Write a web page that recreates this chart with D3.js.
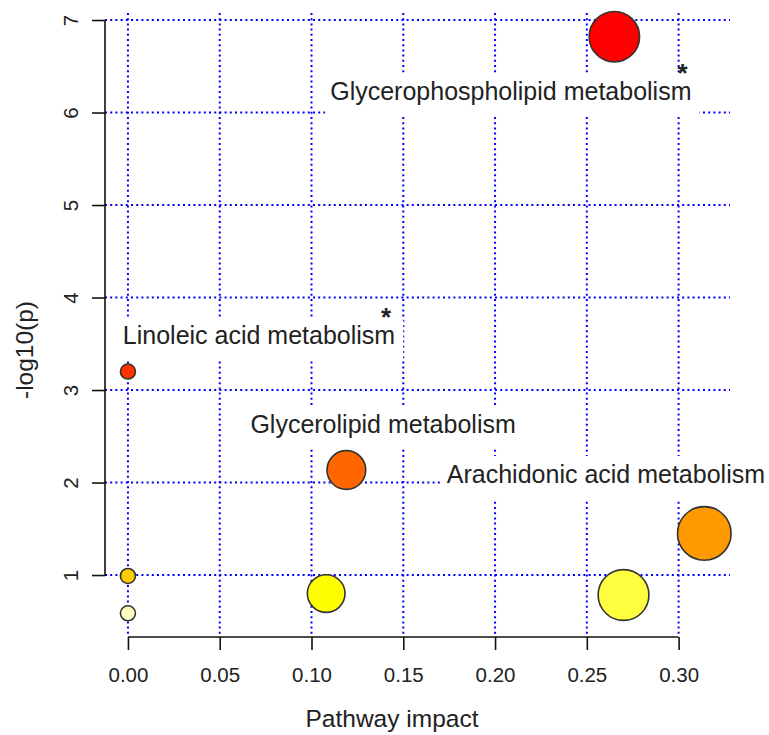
<!DOCTYPE html>
<html>
<head>
<meta charset="utf-8">
<script src="https://cdn.jsdelivr.net/npm/d3@7"></script>
<style>
  body { margin: 0; background: #fff; }
  svg { display: block; font-family: "Liberation Sans", Arial, sans-serif; }
  .tick text { font-size: 20.5px; fill: #222; }
  .axis-title { font-size: 24.5px; fill: #222; }
  .pw-label { font-size: 25px; fill: #222; }
</style>
</head>
<body>
<div id="chart"></div>
<script>
// pathway analysis results
const pathways = ["Glycerophospholipid metabolism", "Linoleic acid metabolism", "Glycerolipid metabolism",
  "Arachidonic acid metabolism", "", "", "", ""];
const impact = [0.265, 0, 0.119, 0.314, 0, 0, 0.108, 0.270];
const logP = [6.82, 3.20, 2.135, 1.45, 0.99, 0.586, 0.80, 0.784];
const significant = [true, true, false, false, false, false, false, false];

// label anchors, in data units (centre x, baseline y)
const labelImpact = [0.2086, 0.0714, 0.139, 0.2604];
const labelLogP = [6.135, 3.498, 2.539, 1.995];

const xTicks = [0, 0.05, 0.10, 0.15, 0.20, 0.25, 0.30];
const yTicks = [1, 2, 3, 4, 5, 6, 7];

// heat colours by rank of p value
const heat = ["#ff0000", "#ff3300", "#ff6600", "#ff9900", "#ffcc00", "#ffff00", "#ffff40", "#ffffc4"];

const width = 769, height = 735;
const plot = {left: 105, right: 730, top: 13, bottom: 637};

const svg = d3.select("#chart").append("svg")
  .attr("width", width).attr("height", height);

const x = d3.scaleLinear().domain([-0.0125, 0.328]).range([plot.left, plot.right]);
const y = d3.scaleLinear().domain([0.33, 7.076]).range([plot.bottom, plot.top]);
const r = d3.scaleSqrt().domain([0, 0.314]).range([7.5, 26.8]);

const rows = pathways.map((name, i) => ({name, impact: impact[i], logP: logP[i], sig: significant[i], i}));
const rank = d3.sort(rows, d => -d.logP).map(d => d.i);
const fill = i => heat[rank.indexOf(i)];

// grid
const grid = svg.append("g")
  .attr("stroke", "#0000ff").attr("stroke-width", 2).attr("stroke-dasharray", "2,3.2").attr("fill", "none");
grid.selectAll(".h").data(yTicks).join("line")
  .attr("x1", plot.left).attr("x2", plot.right)
  .attr("y1", d => y(d)).attr("y2", d => y(d));
grid.selectAll(".v").data(xTicks).join("line")
  .attr("x1", d => x(d)).attr("x2", d => x(d))
  .attr("y1", plot.top).attr("y2", plot.bottom);

// axes, R style: line from first to last tick
const xAxis = svg.append("g")
  .attr("transform", `translate(0,${plot.bottom})`)
  .call(d3.axisBottom(x).tickValues(xTicks).tickFormat(d3.format(".2f")).tickSize(13).tickPadding(17));
xAxis.select(".domain").remove();
xAxis.append("line")
  .attr("x1", x(xTicks[0])).attr("x2", x(xTicks[xTicks.length - 1]))
  .attr("stroke", "#111").attr("stroke-width", 1.6);

const yAxis = svg.append("g")
  .attr("transform", `translate(${plot.left},0)`)
  .call(d3.axisLeft(y).tickValues(yTicks).tickFormat(d3.format("d")).tickSize(13));
yAxis.select(".domain").remove();
yAxis.append("line")
  .attr("y1", y(yTicks[0])).attr("y2", y(yTicks[yTicks.length - 1]))
  .attr("stroke", "#111").attr("stroke-width", 1.6);
yAxis.selectAll(".tick text")
  .attr("x", null).attr("dy", null)
  .attr("text-anchor", "middle")
  .attr("transform", "translate(-27,0) rotate(-90)");

svg.selectAll(".tick line").attr("stroke", "#111").attr("stroke-width", 1.6);
svg.selectAll(".tick text").attr("font-family", null).attr("font-size", null);

svg.append("text").attr("class", "axis-title")
  .attr("text-anchor", "middle")
  .attr("x", 392).attr("y", 727)
  .text("Pathway impact");
svg.append("text").attr("class", "axis-title")
  .attr("text-anchor", "middle")
  .attr("transform", "translate(32.5,350) rotate(-90)")
  .text("-log10(p)");

// labels on white boxes
const labels = svg.append("g");
rows.filter(d => d.name).forEach(d => {
  const g = labels.append("g");
  const t = g.append("text").attr("class", "pw-label")
    .attr("text-anchor", "middle")
    .attr("x", x(labelImpact[d.i])).attr("y", y(labelLogP[d.i]))
    .text(d.name);
  const bb = t.node().getBBox();
  g.insert("rect", "text")
    .attr("x", bb.x - 5).attr("y", bb.y - 4)
    .attr("width", bb.width + 13).attr("height", bb.height + 15)
    .attr("fill", "#fff");
  if (d.sig) {
    g.append("text")
      .attr("text-anchor", "middle")
      .attr("x", bb.x + bb.width - 9)
      .attr("y", y(labelLogP[d.i]) - 18)
      .attr("font-size", 26).attr("font-weight", "bold").attr("fill", "#222")
      .text("*");
  }
});

// points
svg.append("g").selectAll("circle")
  .data(rows)
  .join("circle")
  .attr("cx", d => x(d.impact))
  .attr("cy", d => y(d.logP))
  .attr("r", d => r(d.impact))
  .attr("fill", d => fill(d.i))
  .attr("stroke", "#333")
  .attr("stroke-width", 1.6);
</script>
</body>
</html>
